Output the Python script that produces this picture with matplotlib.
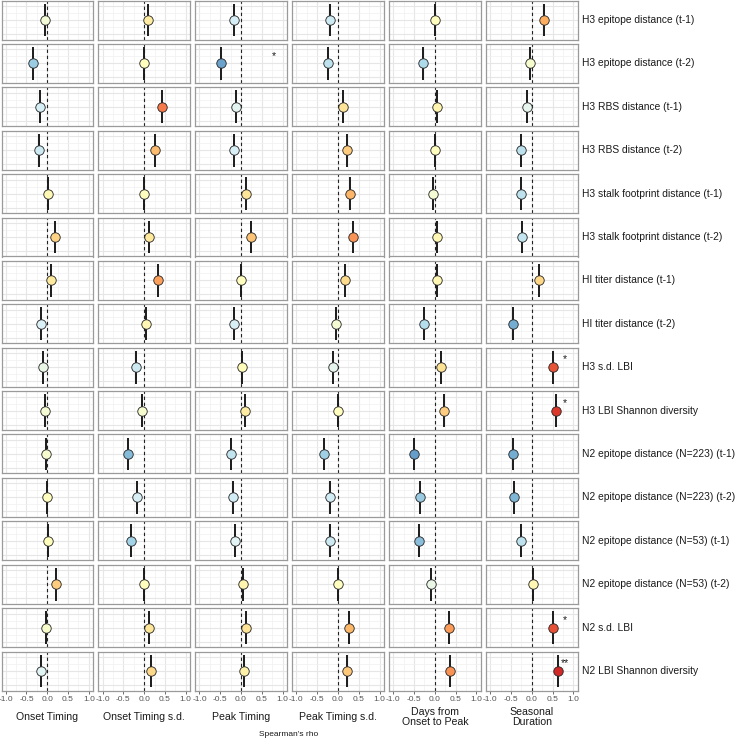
import numpy as np
import matplotlib
matplotlib.use("Agg")
import matplotlib.pyplot as plt
from matplotlib import colors

plt.rcParams['font.family'] = ['Liberation Sans', 'DejaVu Sans']

predictors = ["H3 epitope distance (t-1)", "H3 epitope distance (t-2)",
              "H3 RBS distance (t-1)", "H3 RBS distance (t-2)",
              "H3 stalk footprint distance (t-1)", "H3 stalk footprint distance (t-2)",
              "HI titer distance (t-1)", "HI titer distance (t-2)",
              "H3 s.d. LBI", "H3 LBI Shannon diversity",
              "N2 epitope distance (N=223) (t-1)", "N2 epitope distance (N=223) (t-2)",
              "N2 epitope distance (N=53) (t-1)", "N2 epitope distance (N=53) (t-2)",
              "N2 s.d. LBI", "N2 LBI Shannon diversity"]
outcomes = ["Onset Timing", "Onset Timing s.d.", "Peak Timing", "Peak Timing s.d.",
            "Days from\nOnset to Peak", "Seasonal\nDuration"]
tick_labels = ["-1.0", "-0.5", "0.0", "0.5", "1.0"]

# spearman's rho per outcome, one value per predictor (top to bottom)
rho_onset = [-0.06, -0.34, -0.18, -0.20, 0.03, 0.19, 0.10, -0.16,
             -0.10, -0.05, -0.04, 0.00, 0.01, 0.21, -0.03, -0.14]
rho_onset_sd = [0.09, 0.00, 0.42, 0.26, 0.00, 0.11, 0.33, 0.04,
                -0.20, -0.04, -0.40, -0.17, -0.32, 0.00, 0.12, 0.17]
rho_peak = [-0.18, -0.48, -0.13, -0.17, 0.12, 0.24, 0.00, -0.17,
            0.02, 0.09, -0.24, -0.19, -0.14, 0.05, 0.13, 0.07]
rho_peak_sd = [-0.20, -0.25, 0.13, 0.21, 0.28, 0.36, 0.16, -0.05,
               -0.12, 0.00, -0.33, -0.19, -0.20, 0.00, 0.27, 0.22]
rho_days = [0.00, -0.29, 0.05, 0.00, -0.05, 0.04, 0.04, -0.27,
            0.14, 0.21, -0.49, -0.35, -0.39, -0.10, 0.34, 0.36]
rho_duration = [0.30, -0.04, -0.12, -0.25, -0.25, -0.23, 0.18, -0.45,
                0.51, 0.58, -0.45, -0.42, -0.25, 0.04, 0.52, 0.62]
all_rho = [rho_onset, rho_onset_sd, rho_peak, rho_peak_sd, rho_days, rho_duration]

# significance marks: (predictor index, outcome index, label)
stars = [(1, 2, "*"), (8, 5, "*"), (9, 5, "*"), (14, 5, "*"), (15, 5, "**")]

W, H = 735, 740
fig = plt.figure(figsize=(W / 100, H / 100), dpi=100)

cmap = matplotlib.colormaps["RdYlBu_r"]
norm = colors.Normalize(vmin=-0.75, vmax=0.75)

left0, col_step, pw = 1.5, 96.9, 91.5
top0, row_step, ph = 0.5, 43.4, 39
axes = {}

for i, pred in enumerate(predictors):
    for j in range(len(outcomes)):
        x0 = left0 + j * col_step
        y0 = top0 + i * row_step
        ax = fig.add_axes([x0 / W, 1 - (y0 + ph) / H, pw / W, ph / H])
        axes[(i, j)] = ax
        ax.set_xlim(-1.1, 1.1)
        ax.set_ylim(-1.4, 1.4)
        ax.set_xticks([-1, -0.5, 0, 0.5, 1])
        ax.set_xticks([-0.75, -0.25, 0.25, 0.75], minor=True)
        ax.set_yticks([-1, 0, 1])
        ax.set_yticks([-0.5, 0.5], minor=True)
        ax.grid(True, which="major", color="#e6e6e6", lw=0.8)
        ax.grid(True, which="minor", color="#f0f0f0", lw=0.5)
        ax.set_axisbelow(True)
        for s in ax.spines.values():
            s.set_color("#9a9a9a")
            s.set_linewidth(0.9)
        ax.tick_params(axis="y", which="both", left=False, labelleft=False)
        ax.tick_params(axis="x", which="minor", bottom=False)
        if i == len(predictors) - 1:
            ax.tick_params(axis="x", which="major", length=2.5, width=0.6,
                           color="#555555", labelsize=6, labelcolor="#555555", pad=1.5)
            ax.set_xticklabels(tick_labels)
        else:
            ax.tick_params(axis="x", which="major", bottom=False, labelbottom=False)

        r = all_rho[j][i]
        ax.axvline(0, color="#222222", lw=0.8, ls=(0, (3, 2.5)), zorder=2)
        ax.vlines(r, -1.18, 1.18, color="#1a1a1a", lw=1.4, zorder=3)
        ax.plot(r, 0, "o", ms=6.8, mfc=cmap(norm(r)), mec="#222222", mew=0.6, zorder=4)

        if j == len(outcomes) - 1:
            fig.text((x0 + pw + 4) / W, 1 - (y0 + ph / 2) / H, pred,
                     ha="left", va="center", fontsize=7.4, color="#1a1a1a")

for (i, j, lab) in stars:
    axes[(i, j)].text(0.8, 0.55, lab, ha="center", va="center",
                      fontsize=7.5, color="#1a1a1a")

for j, name in enumerate(outcomes):
    xc = left0 + j * col_step + pw / 2
    fig.text(xc / W, 1 - 717 / H, name, ha="center", va="center",
             fontsize=7.6, color="#1a1a1a", linespacing=1.0)

fig.text(289 / W, 1 - 735 / H, "Spearman's rho", ha="center", va="center",
         fontsize=6, color="#1a1a1a")

fig.savefig("out.png", dpi=100)
